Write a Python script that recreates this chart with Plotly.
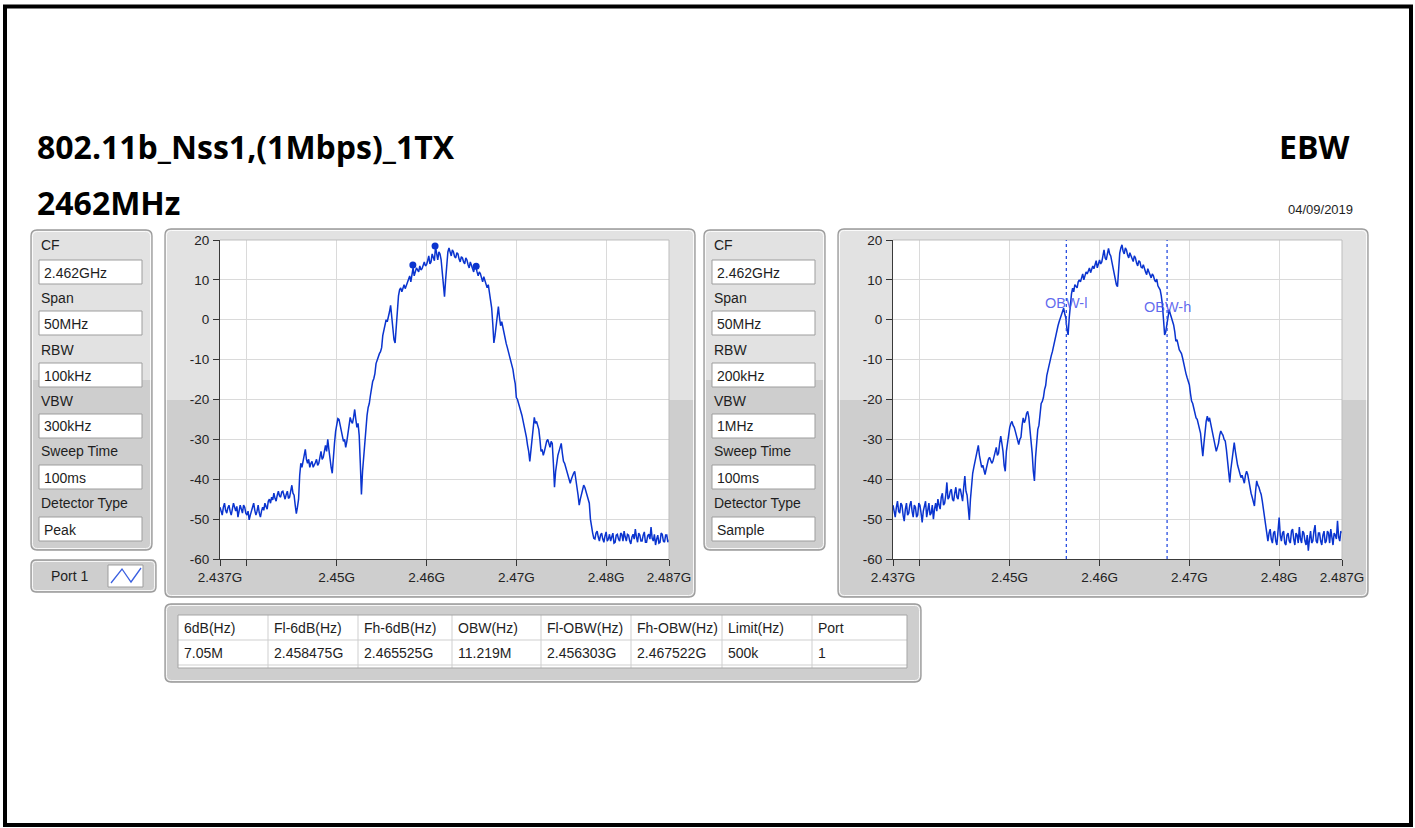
import plotly.graph_objects as go

W, H = 1415, 828

# ---------------- data ----------------
FREQ_START_MHZ = 2437.0
FREQ_STEP_MHZ = 0.125

# Peak detector trace (RBW 100 kHz), dBm, one value per 0.125 MHz from 2437 to 2487 MHz
PEAK_TRACE_DBM = [
    -47.0, -48.2, -49.0, -47.0, -46.0, -47.8, -48.5, -47.2, -46.5, -48.0,
    -49.0, -47.5, -46.0, -47.0, -48.0, -46.8, -49.5, -48.0, -46.5, -47.5,
    -48.5, -46.5, -47.0, -48.5, -49.0, -48.0, -50.2, -49.0, -48.0, -47.5,
    -46.0, -47.8, -49.0, -48.0, -46.5, -48.5, -49.5, -48.0, -47.0, -47.8,
    -46.0, -46.8, -47.5, -45.5, -45.0, -46.0, -44.5, -45.2, -43.5, -44.8,
    -45.5, -44.0, -43.0, -44.2, -44.5, -43.2, -43.0, -44.0, -45.0, -43.8,
    -43.0, -44.8, -44.5, -43.0, -41.5, -43.5, -44.0, -46.5, -48.6, -47.0,
    -45.0, -39.0, -36.0, -37.0, -35.5, -34.0, -32.5, -35.0, -36.0, -35.0,
    -37.0, -36.0, -35.5, -37.0, -36.5, -35.8, -35.0, -36.5, -36.0, -34.5,
    -33.0, -35.0, -34.5, -33.0, -31.5, -33.0, -30.0, -32.5, -35.5, -37.0,
    -38.5, -34.0, -31.0, -28.0, -26.5, -24.8, -25.0, -26.5, -28.5, -29.0,
    -30.5, -30.0, -32.0, -30.5, -28.0, -26.0, -24.5, -25.5, -26.0, -24.5,
    -22.5, -25.0, -27.0, -26.0, -29.0, -36.0, -43.8, -38.0, -34.0, -29.5,
    -27.0, -24.0, -22.0, -21.0, -19.0, -16.5, -15.5, -14.8, -13.5, -11.0,
    -10.0, -9.5, -8.5, -8.0, -7.0, -4.0, -2.5, -1.5, 0.0, -0.5,
    0.5, 2.0, 3.6, 1.0, -2.0, -5.0, -5.8, -1.0, 3.5, 6.0,
    7.5, 8.0, 7.0, 8.0, 8.8, 7.8, 8.5, 9.5, 10.0, 11.0,
    9.5, 11.5, 13.0, 11.0, 12.0, 13.0, 12.5, 12.0, 13.5, 12.5,
    12.8, 13.5, 14.5, 13.5, 13.8, 14.8, 16.0, 14.0, 14.5, 16.5,
    15.5, 14.8, 18.3, 16.0, 15.0, 17.0, 16.5, 15.0, 12.0, 9.0,
    5.8, 10.0, 15.0, 17.0, 18.0, 16.5, 16.0, 17.5, 17.0, 15.8,
    15.5, 16.8, 16.5, 15.2, 14.5, 15.8, 15.5, 14.5, 14.0, 15.5,
    15.0, 13.8, 13.0, 14.5, 13.8, 12.8, 12.0, 13.5, 13.3, 12.0,
    11.0, 12.0, 11.5, 10.5, 9.5, 10.8, 10.0, 9.0, 8.0, 8.8,
    6.5, 5.5, 3.0, -1.0, -5.8, -4.0, -1.0, 1.0, 3.3, 0.5,
    -1.5, -0.5, -2.0, -3.0, -4.5, -6.0, -7.0, -8.0, -9.5, -10.0,
    -11.5, -12.5, -14.5, -16.0, -19.5, -20.0, -21.0, -22.5, -23.0, -24.0,
    -25.5, -26.0, -27.5, -29.5, -31.5, -33.0, -35.5, -33.0, -29.5, -27.0,
    -24.5, -26.0, -25.5, -26.5, -27.5, -30.0, -33.0, -32.5, -34.0, -33.0,
    -31.5, -30.5, -30.0, -31.5, -32.0, -30.5, -31.0, -36.0, -42.0, -38.0,
    -35.5, -34.0, -33.0, -32.0, -31.0, -33.5, -35.5, -36.0, -37.0, -38.5,
    -39.5, -40.0, -41.0, -40.0, -39.0, -38.5, -38.0, -39.5, -42.0, -44.0,
    -46.5, -45.0, -43.5, -42.5, -41.5, -42.0, -43.0, -44.0, -44.5, -46.0,
    -50.0, -52.5, -53.5, -54.8, -55.0, -53.5, -53.0, -54.5, -55.5, -54.0,
    -53.5, -55.0, -55.8, -54.2, -53.2, -55.5, -55.0, -53.8, -55.5, -54.5,
    -53.5, -56.0, -55.8, -54.0, -53.8, -55.0, -55.5, -53.5, -53.8, -55.5,
    -53.0, -54.5, -55.5, -53.8, -54.0, -55.5, -56.2, -54.5, -53.8, -55.0,
    -52.5, -54.5, -55.8, -53.5, -54.0, -55.5, -55.5, -54.0, -53.2, -55.8,
    -55.8, -54.2, -53.8, -55.0, -52.0, -54.8, -55.5, -53.8, -56.5, -55.0,
    -54.0, -56.0, -55.8, -53.5, -53.8, -55.5, -55.8, -54.0, -54.0, -55.8,
    -55.2,
]

# Sample detector trace (RBW 200 kHz), dBm, same sweep points
SAMPLE_TRACE_DBM = [
    -46.5, -48.0, -49.5, -47.0, -45.5, -48.0, -48.5, -46.0, -46.5, -49.0,
    -50.5, -47.5, -46.0, -49.0, -48.5, -46.5, -45.5, -48.0, -49.5, -46.5,
    -47.0, -49.5, -49.0, -46.0, -46.5, -48.5, -50.8, -48.0, -47.0, -45.5,
    -49.5, -47.0, -46.0, -49.0, -48.5, -46.5, -50.0, -47.5, -46.0, -48.0,
    -45.0, -46.5, -47.5, -44.5, -43.5, -46.5, -46.0, -44.0, -40.8, -45.0,
    -44.5, -43.0, -42.5, -45.0, -45.5, -43.5, -42.0, -44.5, -45.0, -42.5,
    -42.5, -44.0, -45.5, -42.0, -39.2, -43.0, -44.0, -47.0, -50.2, -45.0,
    -40.5, -38.5, -37.0, -35.5, -35.0, -33.0, -31.5, -34.0, -35.5, -37.0,
    -36.5, -37.5, -38.8, -37.5, -36.0, -35.0, -34.5, -35.5, -36.0, -35.5,
    -34.5, -33.0, -32.0, -34.0, -33.5, -31.0, -29.2, -31.0, -33.0, -36.5,
    -38.0, -33.0, -30.5, -28.5, -27.0, -26.0, -25.5, -26.5, -27.0, -28.0,
    -29.0, -30.5, -31.3, -30.0, -29.5, -26.5, -24.6, -25.8, -25.0, -23.5,
    -23.0, -24.5, -27.0, -30.5, -33.5, -38.0, -40.4, -34.5, -30.0, -27.5,
    -26.5, -23.0, -21.0, -20.5, -19.5, -17.5, -16.5, -14.0, -12.5, -11.5,
    -10.0, -9.0, -8.0, -6.5, -5.5, -4.5, -3.0, -1.5, -0.5, 0.5,
    1.0, 2.0, 2.9, 1.5, 0.4, -2.5, -3.8, 0.5, 4.5, 6.5,
    7.9, 7.0, 8.8, 8.5, 8.0, 9.5, 10.0, 9.5, 10.8, 11.5,
    10.0, 11.0, 12.0, 11.5, 12.5, 13.0, 11.8, 13.0, 13.5, 12.8,
    14.2, 14.8, 13.0, 14.0, 15.0, 14.0, 14.5, 16.0, 17.5, 15.5,
    15.0, 16.5, 17.9, 16.5, 16.0, 14.5, 12.9, 11.0, 10.0, 8.8,
    8.3, 12.5, 16.7, 18.0, 18.8, 17.2, 16.5, 18.0, 17.5, 16.2,
    15.5, 16.8, 16.0, 15.0, 14.6, 16.0, 15.5, 14.2, 13.5, 14.8,
    14.5, 13.2, 13.0, 13.8, 12.5, 12.0, 11.3, 12.8, 12.0, 11.0,
    10.5, 11.5, 11.0, 10.0, 9.5, 10.2, 8.5, 8.0, 7.5, 6.0,
    3.8, 0.0, -3.8, -3.0, -1.3, 0.5, 2.5, 1.5, 0.5, -0.5,
    -1.3, -3.0, -5.4, -5.0, -6.5, -7.5, -8.0, -8.5, -9.6, -11.0,
    -12.9, -13.5, -14.5, -15.5, -16.3, -18.5, -20.4, -21.0, -22.5, -23.5,
    -24.6, -25.0, -26.5, -27.5, -28.5, -31.5, -34.2, -31.0, -28.0, -25.5,
    -24.2, -25.5, -24.6, -26.0, -27.5, -29.0, -30.4, -32.0, -33.0, -32.0,
    -31.0, -29.0, -27.9, -28.5, -29.0, -30.0, -30.4, -32.5, -36.0, -39.0,
    -40.8, -37.5, -35.4, -32.5, -30.8, -33.0, -35.4, -36.5, -37.5, -38.5,
    -39.6, -39.0, -40.4, -41.0, -39.0, -38.0, -38.8, -40.5, -42.9, -43.5,
    -44.5, -45.5, -46.7, -43.0, -40.4, -41.5, -42.0, -43.0, -43.8, -45.5,
    -47.5, -49.0, -50.4, -53.0, -55.5, -53.5, -52.5, -55.0, -56.0, -53.5,
    -53.0, -55.5, -56.5, -53.0, -49.6, -54.0, -55.5, -53.5, -53.0, -56.0,
    -56.5, -54.0, -53.5, -55.5, -56.0, -53.0, -52.5, -55.0, -56.5, -53.5,
    -54.0, -56.0, -52.0, -55.0, -56.0, -53.0, -53.5, -55.5, -56.5, -54.0,
    -57.9, -55.0, -53.0, -56.0, -55.5, -53.0, -51.5, -55.5, -56.0, -53.5,
    -53.5, -55.5, -56.5, -54.0, -53.0, -56.0, -55.5, -53.0, -53.5, -56.0,
    -52.5, -54.5, -56.5, -53.5, -54.0, -55.0, -50.4, -54.5, -55.5, -53.0,
    -53.5,
]

X_TICK_VALS = [2437, 2440, 2450, 2460, 2470, 2480, 2487]
X_TICK_TEXT = ["2.437G", "", "2.45G", "2.46G", "2.47G", "2.48G", "2.487G"]
Y_TICK_VALS = [-60, -50, -40, -30, -20, -10, 0, 10, 20]
Y_TICK_TEXT = ["-60", "-50", "-40", "-30", "-20", "-10", "0", "10", "20"]
Y_RANGE = [-60, 20]

MARKER_FREQ_MHZ = [2458.475, 2460.95, 2465.525]
MARKER_LEVEL_DBM = [13.7, 18.5, 13.4]

OBW_FREQ_MHZ = [2456.303, 2467.522]
OBW_LABELS = ["OBW-l", "OBW-h"]
OBW_LABEL_LEVEL_DBM = [4.2, 3.3]

SETTINGS_LABELS = ["CF", "Span", "RBW", "VBW", "Sweep Time", "Detector Type"]
SETTINGS_LEFT = ["2.462GHz", "50MHz", "100kHz", "300kHz", "100ms", "Peak"]
SETTINGS_RIGHT = ["2.462GHz", "50MHz", "200kHz", "1MHz", "100ms", "Sample"]

TABLE_HEADERS = ["6dB(Hz)", "Fl-6dB(Hz)", "Fh-6dB(Hz)", "OBW(Hz)",
                 "Fl-OBW(Hz)", "Fh-OBW(Hz)", "Limit(Hz)", "Port"]
TABLE_VALUES = ["7.05M", "2.458475G", "2.465525G", "11.219M",
                "2.456303G", "2.467522G", "500k", "1"]

TITLE = "802.11b_Nss1,(1Mbps)_1TX"
SUBTITLE = "2462MHz"
TEST_NAME = "EBW"
DATE_TEXT = "04/09/2019"
PORT_TEXT = "Port 1"

# ---------------- styling / helpers ----------------
TRACE_COLOR = "#0a34cf"
UI_FONT = "Liberation Sans"
UI_SIZE = 14
TICK_SIZE = 13.5
TITLE_FONT = "Open Sans"
PANEL_TOP = "#e2e2e2"
PANEL_BOTTOM = "#cecece"
PANEL_EDGE = "#9a9a9a"


def px(x):
    return x / W


def py(y):
    return 1 - y / H


def rpath(x0, y0, x1, y1, r, top=True, bottom=True):
    def P(x, y):
        return f"{px(x):.6f},{py(y):.6f}"
    rt = r if top else 0
    rb = r if bottom else 0
    s = f"M {P(x0 + rt, y0)} L {P(x1 - rt, y0)} "
    if rt:
        s += f"Q {P(x1, y0)} {P(x1, y0 + rt)} "
    s += f"L {P(x1, y1 - rb)} "
    if rb:
        s += f"Q {P(x1, y1)} {P(x1 - rb, y1)} "
    s += f"L {P(x0 + rb, y1)} "
    if rb:
        s += f"Q {P(x0, y1)} {P(x0, y1 - rb)} "
    s += f"L {P(x0, y0 + rt)} "
    if rt:
        s += f"Q {P(x0, y0)} {P(x0 + rt, y0)} "
    return s + "Z"


shapes = []
annotations = []


def rect(x0, y0, x1, y1, fill=None, line=None, lw=1):
    d = dict(type="rect", xref="paper", yref="paper",
             x0=px(x0), x1=px(x1), y0=py(y1), y1=py(y0),
             layer="below", line=dict(width=lw if line else 0, color=line or "rgba(0,0,0,0)"))
    if fill:
        d["fillcolor"] = fill
    shapes.append(d)


def panel(x0, y0, x1, y1, split=400, r=6):
    if y0 < split < y1:
        shapes.append(dict(type="path", path=rpath(x0, y0, x1, split, r, True, False),
                           xref="paper", yref="paper", fillcolor=PANEL_TOP,
                           line=dict(width=0), layer="below"))
        shapes.append(dict(type="path", path=rpath(x0, split, x1, y1, r, False, True),
                           xref="paper", yref="paper", fillcolor=PANEL_BOTTOM,
                           line=dict(width=0), layer="below"))
    else:
        fill = PANEL_TOP if y1 <= split else PANEL_BOTTOM
        shapes.append(dict(type="path", path=rpath(x0, y0, x1, y1, r),
                           xref="paper", yref="paper", fillcolor=fill,
                           line=dict(width=0), layer="below"))
    shapes.append(dict(type="path", path=rpath(x0 + 1.5, y0 + 1.5, x1 - 1.5, y1 - 1.5, r - 1),
                       xref="paper", yref="paper", line=dict(width=1, color="rgba(255,255,255,0.85)"),
                       layer="below"))
    shapes.append(dict(type="path", path=rpath(x0, y0, x1, y1, r),
                       xref="paper", yref="paper", line=dict(width=1.3, color=PANEL_EDGE),
                       layer="below"))


def text(x, y, s, size=UI_SIZE, color="#1e1e1e", anchor="left", family=UI_FONT):
    annotations.append(dict(x=px(x), y=py(y), xref="paper", yref="paper", text=s,
                            showarrow=False, xanchor=anchor, yanchor="middle",
                            font=dict(family=family, size=size, color=color)))


# outer frame
rect(5, 6.5, 1411, 825, line="#000000", lw=4)

# titles
text(35, 146, f"<b>{TITLE}</b>", size=32, color="#000000", family=TITLE_FONT)
text(35, 203, f"<b>{SUBTITLE}</b>", size=32, color="#000000", family=TITLE_FONT)
text(1351, 146, f"<b>{TEST_NAME}</b>", size=32, color="#000000", anchor="right", family=TITLE_FONT)
text(1355, 209, DATE_TEXT, size=13, color="#1e1e1e", anchor="right")

# settings panels
LABEL_Y = [245, 298, 350, 401, 451, 503]
BOX_Y = [(260, 284), (311, 335), (363, 387), (414, 438), (465, 489), (517, 541)]


def settings_panel(x0, x1, bx0, bx1, lx, values):
    panel(x0, 230, x1, 550, split=380)
    for lab, ly, (b0, b1), val in zip(SETTINGS_LABELS, LABEL_Y, BOX_Y, values):
        text(lx, ly, lab)
        rect(bx0, b0, bx1, b1, fill="#ffffff", line="#9d9d9d", lw=1)
        text(bx0 + 3, (b0 + b1) / 2 + 0.5, val)


settings_panel(31, 152, 39, 142, 39, SETTINGS_LEFT)
settings_panel(704, 825, 712, 815, 712, SETTINGS_RIGHT)

# port panel
panel(31, 560, 156, 592, split=380, r=5)
text(49, 576, PORT_TEXT)
rect(108, 565, 143, 587, fill="#ffffff", line="#9d9d9d", lw=1)
icon = (f"M {px(111):.6f},{py(583):.6f} L {px(122):.6f},{py(569):.6f} "
        f"L {px(131):.6f},{py(582):.6f} L {px(141):.6f},{py(568):.6f}")
shapes.append(dict(type="path", path=icon, xref="paper", yref="paper",
                   line=dict(color="#3a5fe0", width=1.3), layer="below"))

# plot panels and plot areas
PLOT_L = (220, 669)
PLOT_R = (893, 1342)
PLOT_Y = (240, 559)

panel(165, 229, 695, 597, split=400)
panel(838, 229, 1368, 597, split=400)
for (a, b) in (PLOT_L, PLOT_R):
    rect(a, PLOT_Y[0], b, PLOT_Y[1], fill="#ffffff")

# table panel
panel(165, 604, 921, 682, split=400, r=6)
COL_X = [178, 268, 358, 452, 541, 631, 722, 812, 907]
TBL_Y0, TBL_MID, TBL_Y1, TBL_END = 615, 640, 665, 668
rect(COL_X[0], TBL_Y0, COL_X[-1], TBL_END, fill="#ffffff")
for xv in COL_X[1:-1]:
    shapes.append(dict(type="line", xref="paper", yref="paper", x0=px(xv), x1=px(xv),
                       y0=py(TBL_Y0), y1=py(TBL_END), line=dict(color="#cfcfcf", width=1),
                       layer="below"))
for yv in (TBL_MID, TBL_Y1):
    shapes.append(dict(type="line", xref="paper", yref="paper", x0=px(COL_X[0]), x1=px(COL_X[-1]),
                       y0=py(yv), y1=py(yv), line=dict(color="#cfcfcf", width=1), layer="below"))
rect(COL_X[0], TBL_Y0, COL_X[-1], TBL_END, line="#a5a5a5", lw=1)
for i, (hd, val) in enumerate(zip(TABLE_HEADERS, TABLE_VALUES)):
    text(COL_X[i] + 4, 627.5, hd)
    text(COL_X[i] + 4, 653, val)

# light top/right border of plot areas
for (a, b) in (PLOT_L, PLOT_R):
    shapes.append(dict(type="path",
                       path=f"M {px(a):.6f},{py(PLOT_Y[0]):.6f} L {px(b):.6f},{py(PLOT_Y[0]):.6f} L {px(b):.6f},{py(PLOT_Y[1]):.6f}",
                       xref="paper", yref="paper", line=dict(color="#bdbdbd", width=1), layer="above"))

# OBW lines (right plot)
for f in OBW_FREQ_MHZ:
    shapes.append(dict(type="line", xref="x2", yref="y2", x0=f, x1=f, y0=Y_RANGE[0], y1=Y_RANGE[1],
                       line=dict(color="#2b4fe0", width=1.3, dash="dot"), layer="above"))
for f, lab, lv in zip(OBW_FREQ_MHZ, OBW_LABELS, OBW_LABEL_LEVEL_DBM):
    annotations.append(dict(x=f, y=lv, xref="x2", yref="y2", text=lab, showarrow=False,
                            xanchor="center", yanchor="middle",
                            font=dict(family=UI_FONT, size=14.5, color="rgba(70,80,235,0.85)")))

# ---------------- traces ----------------
freqs = [FREQ_START_MHZ + FREQ_STEP_MHZ * i for i in range(len(PEAK_TRACE_DBM))]

fig = go.Figure()
fig.add_trace(go.Scatter(x=freqs, y=PEAK_TRACE_DBM, mode="lines",
                         line=dict(color=TRACE_COLOR, width=1.5), xaxis="x", yaxis="y",
                         hoverinfo="skip", showlegend=False))
fig.add_trace(go.Scatter(x=MARKER_FREQ_MHZ, y=MARKER_LEVEL_DBM, mode="markers",
                         marker=dict(color=TRACE_COLOR, size=7), xaxis="x", yaxis="y",
                         hoverinfo="skip", showlegend=False))
fig.add_trace(go.Scatter(x=freqs, y=SAMPLE_TRACE_DBM, mode="lines",
                         line=dict(color=TRACE_COLOR, width=1.5), xaxis="x2", yaxis="y2",
                         hoverinfo="skip", showlegend=False))


def xaxis(dom):
    return dict(domain=[px(dom[0]), px(dom[1])], range=[X_TICK_VALS[0], X_TICK_VALS[-1]],
                tickvals=X_TICK_VALS, ticktext=X_TICK_TEXT, ticks="outside", ticklen=6,
                tickcolor="#333333", showgrid=True, gridcolor="#dadada", gridwidth=1,
                showline=True, linecolor="#3a3a3a", linewidth=1, zeroline=False,
                automargin=False,
                tickfont=dict(family=UI_FONT, size=TICK_SIZE, color="#222222"), fixedrange=True)


def yaxis(anchor):
    return dict(domain=[py(PLOT_Y[1]), py(PLOT_Y[0])], range=Y_RANGE, tickvals=Y_TICK_VALS,
                ticktext=Y_TICK_TEXT,
                ticks="outside", ticklen=6, tickcolor="#333333", showgrid=True,
                gridcolor="#dadada", gridwidth=1, showline=True, linecolor="#3a3a3a",
                linewidth=1, zeroline=False, anchor=anchor, ticklabelstandoff=1,
                automargin=False,
                tickfont=dict(family=UI_FONT, size=TICK_SIZE, color="#222222"), fixedrange=True)


xa1 = xaxis(PLOT_L)
xa1["anchor"] = "y"
xa2 = xaxis(PLOT_R)
xa2["anchor"] = "y2"

fig.update_layout(
    width=W, height=H, margin=dict(l=0, r=0, t=0, b=0, pad=0, autoexpand=False),
    paper_bgcolor="#ffffff", plot_bgcolor="rgba(0,0,0,0)",
    xaxis=xa1, yaxis=yaxis("x"), xaxis2=xa2, yaxis2=yaxis("x2"),
    shapes=shapes, annotations=annotations, showlegend=False,
)

fig.write_html("out.html", config={"displayModeBar": False},
               post_script="document.body.style.margin='0';document.body.style.overflow='hidden';")
